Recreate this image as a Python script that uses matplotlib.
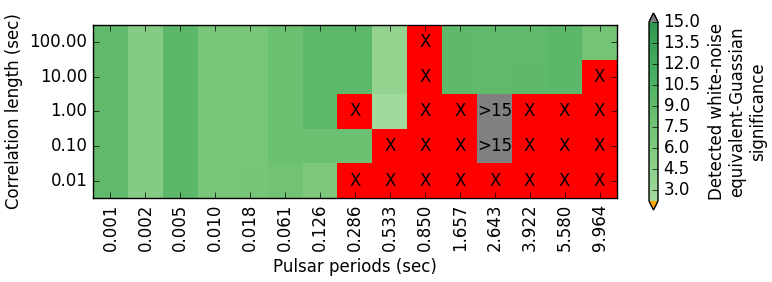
#!/usr/bin/env python3
import numpy as np
import matplotlib
matplotlib.use('Agg')
import matplotlib.pyplot as plt
from matplotlib.colors import LinearSegmentedColormap, Normalize

nan = np.nan
GT = 99.0  # detection above the colour range, shown as ">15"

periods = [0.001, 0.002, 0.005, 0.010, 0.018, 0.061, 0.126, 0.286,
           0.533, 0.850, 1.657, 2.643, 3.922, 5.580, 9.964]
corr_lengths = [100.0, 10.0, 1.0, 0.1, 0.01]

# significance per correlation length (rows top to bottom), nan = not detected
sig_100 = [9.0, 5.5, 9.5, 6.6, 6.7, 8.0, 9.4, 9.4, 3.8, nan, 9.3, 8.9, 9.2, 9.5, 7.2]
sig_10 = [9.0, 5.5, 9.5, 6.6, 6.7, 8.0, 9.4, 9.4, 3.8, nan, 9.3, 9.0, 9.3, 9.5, nan]
sig_1 = [9.0, 5.5, 9.5, 6.6, 6.7, 8.0, 9.4, nan, 2.2, nan, nan, GT, nan, nan, nan]
sig_01 = [9.0, 5.5, 9.5, 6.6, 6.7, 8.0, 8.0, 8.0, nan, nan, nan, GT, nan, nan, nan]
sig_001 = [9.0, 5.5, 9.5, 6.6, 6.9, 7.5, 6.2, nan, nan, nan, nan, nan, nan, nan, nan]

cbar_ticks = [3.0, 4.5, 6.0, 7.5, 9.0, 10.5, 12.0, 13.5, 15.0]

data = np.array([sig_100, sig_10, sig_1, sig_01, sig_001])

plt.style.use('classic')
plt.rcParams['figure.facecolor'] = 'white'
plt.rcParams['savefig.facecolor'] = 'white'

greens = plt.get_cmap('Greens')
cmap = LinearSegmentedColormap.from_list(
    'greens_cut', greens(np.linspace(0.37, 0.70, 256)))
cmap.set_bad('red')
cmap.set_over('gray')
cmap.set_under('orange')
norm = Normalize(vmin=2.2, vmax=15.0)

fig = plt.figure(figsize=(7.72, 2.82), dpi=100)
ax = fig.add_axes([93 / 772, 1 - 198 / 282, 524 / 772, 173 / 282])
cax = fig.add_axes([649 / 772, 1 - 210 / 282, 9 / 772, 197 / 282])

im = ax.imshow(np.ma.masked_invalid(data), cmap=cmap, norm=norm,
               aspect='auto', interpolation='nearest')

for i in range(data.shape[0]):
    for j in range(data.shape[1]):
        val = data[i, j]
        if np.isnan(val):
            ax.text(j, i, 'X', ha='center', va='center', fontsize=12)
        elif val > 15:
            ax.text(j, i, '>15', ha='center', va='center', fontsize=12)

ax.set_xticks(range(len(periods)))
ax.set_xticklabels(['%.3f' % p for p in periods], rotation=90)
ax.set_yticks(range(len(corr_lengths)))
ax.set_yticklabels(['%.2f' % c for c in corr_lengths])
ax.set_xlim(-0.5, len(periods) - 0.5)
ax.set_ylim(len(corr_lengths) - 0.5, -0.5)
ax.set_xlabel('Pulsar periods (sec)')
ax.set_ylabel('Correlation length (sec)')

cb = fig.colorbar(im, cax=cax, extend='both', ticks=cbar_ticks, format='%.1f')
cb.set_label('Detected white-noise\nequivalent-Guassian\nsignificance')

fig.savefig('out.png', dpi=100)
